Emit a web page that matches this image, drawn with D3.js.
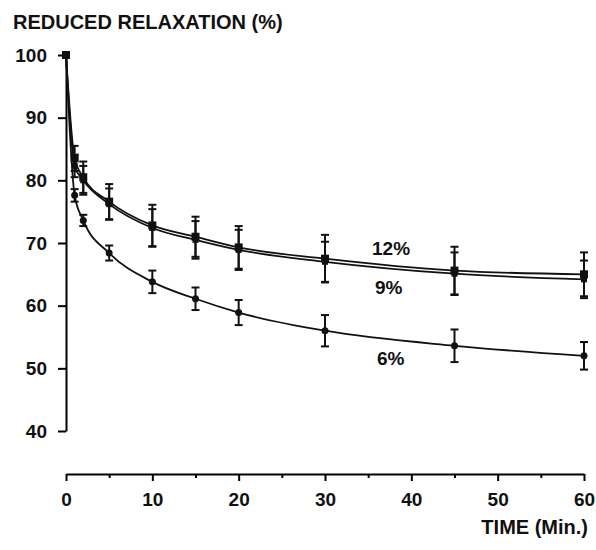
<!DOCTYPE html>
<html>
<head>
<meta charset="utf-8">
<script src="https://cdn.jsdelivr.net/npm/d3@7"></script>
<style>
  body { margin: 0; background: #fff; }
  text { font-family: "Liberation Sans", Arial, sans-serif; font-weight: bold; fill: #111; }
</style>
</head>
<body>
<div id="chart"></div>
<script>
// Data
const times = [0, 1, 2, 5, 10, 15, 20, 30, 45, 60];
const pct12 = [100, 83.5, 80.5, 76.6, 72.8, 71.0, 69.3, 67.5, 65.6, 65.0];
const pct9  = [100, 82.3, 80.0, 76.2, 72.4, 70.5, 68.9, 67.0, 65.1, 64.2];
const pct6  = [100, 77.6, 73.6, 68.4, 63.8, 61.1, 58.9, 56.0, 53.6, 52.0];
const err12 = [0, 2.0, 2.5, 2.8, 3.3, 3.2, 3.4, 3.8, 3.8, 3.5];
const err9  = [0, 1.8, 2.3, 2.5, 3.0, 3.0, 3.2, 3.2, 3.4, 3.0];
const err6  = [0, 1.0, 0.9, 1.2, 1.8, 1.8, 2.0, 2.5, 2.6, 2.2];
const xTicks = [0, 10, 20, 30, 40, 50, 60];
const xMinor = [5, 15, 25, 35, 45, 55];
const yTicks = [40, 50, 60, 70, 80, 90, 100];

const series = [
    { name: "12%", vals: pct12, err: err12, marker: "square", size: 8, lx: 372, ly: 248 },
    { name: "9%",  vals: pct9,  err: err9,  marker: "square", size: 6, lx: 375, ly: 287 },
    { name: "6%",  vals: pct6,  err: err6,  marker: "circle", size: 3.5, lx: 377, ly: 358 }
];

const width = 596, height = 550;

const svg = d3.select("#chart")
    .append("svg")
    .attr("width", width)
    .attr("height", height);

const x = d3.scaleLinear().domain([0, 60]).range([66, 584]);
const y = d3.scaleLinear().domain([40, 100]).range([431, 55]);

// Y axis (only spans 40..100)
const yAxis = svg.append("g")
    .attr("transform", "translate(66,0)")
    .call(d3.axisLeft(y).tickValues(yTicks).tickSize(8).tickPadding(11).tickSizeOuter(0));
yAxis.select(".domain").attr("stroke-width", 2);
yAxis.selectAll(".tick line").attr("stroke-width", 2);
yAxis.selectAll("text").style("font-size", "19px").attr("fill", "#111");

// X axis sits lower, separated from the y axis
const xAxisY = 474;
const xAxis = svg.append("g")
    .attr("transform", `translate(0,${xAxisY})`)
    .call(d3.axisBottom(x).tickValues(xTicks).tickSize(7).tickPadding(12).tickSizeOuter(0));
xAxis.select(".domain").attr("stroke-width", 2);
xAxis.selectAll(".tick line").attr("stroke-width", 2);
xAxis.selectAll("text").style("font-size", "19px").attr("fill", "#111");

svg.append("g")
    .attr("transform", `translate(0,${xAxisY})`)
    .call(d3.axisBottom(x).tickValues(xMinor).tickSize(4).tickFormat("").tickSizeOuter(0))
    .call(g => g.select(".domain").remove())
    .selectAll(".tick line").attr("stroke-width", 2);

// Axis titles
svg.append("text")
    .attr("x", 13)
    .attr("y", 29)
    .style("font-size", "20px")
    .text("REDUCED RELAXATION (%)");

svg.append("text")
    .attr("x", 588)
    .attr("y", 534)
    .attr("text-anchor", "end")
    .style("font-size", "20px")
    .text("TIME (Min.)");

const line = d3.line()
    .x(d => x(d.t))
    .y(d => y(d.v))
    .curve(d3.curveMonotoneX);

series.forEach(s => {
    const pts = times.map((t, i) => ({ t: t, v: s.vals[i], e: s.err[i] }));
    const g = svg.append("g");

    g.append("path")
        .datum(pts)
        .attr("d", line)
        .attr("fill", "none")
        .attr("stroke", "#111")
        .attr("stroke-width", 1.8);

    const bars = pts.filter(d => d.e > 0);
    g.selectAll(".eb")
        .data(bars)
        .enter().append("line")
        .attr("x1", d => x(d.t)).attr("x2", d => x(d.t))
        .attr("y1", d => y(d.v - d.e)).attr("y2", d => y(d.v + d.e))
        .attr("stroke", "#111").attr("stroke-width", 2);
    [-1, 1].forEach(sgn => {
        g.selectAll(".cap" + sgn)
            .data(bars)
            .enter().append("line")
            .attr("x1", d => x(d.t) - 4).attr("x2", d => x(d.t) + 4)
            .attr("y1", d => y(d.v + sgn * d.e)).attr("y2", d => y(d.v + sgn * d.e))
            .attr("stroke", "#111").attr("stroke-width", 2);
    });

    if (s.marker === "square") {
        g.selectAll(".pt")
            .data(pts)
            .enter().append("rect")
            .attr("x", d => x(d.t) - s.size / 2)
            .attr("y", d => y(d.v) - s.size / 2)
            .attr("width", s.size)
            .attr("height", s.size)
            .attr("fill", "#111");
    } else {
        g.selectAll(".pt")
            .data(pts)
            .enter().append("circle")
            .attr("cx", d => x(d.t))
            .attr("cy", d => y(d.v))
            .attr("r", s.size)
            .attr("fill", "#111");
    }

    svg.append("text")
        .attr("x", s.lx)
        .attr("y", s.ly)
        .attr("dy", ".35em")
        .style("font-size", "19px")
        .text(s.name);
});
</script>
</body>
</html>
